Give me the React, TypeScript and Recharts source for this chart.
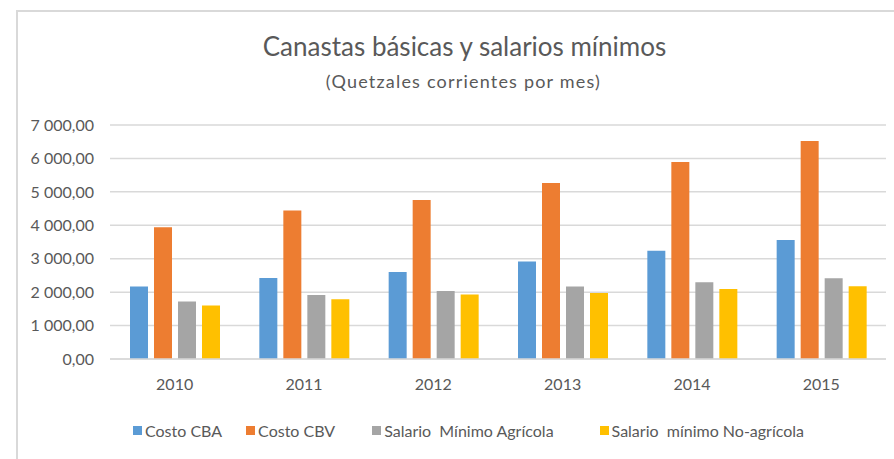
import React from 'react';
import { BarChart, Bar, XAxis, YAxis, CartesianGrid, Legend } from 'recharts';

const years = ['2010', '2011', '2012', '2013', '2014', '2015'];
const costoCBA = [2170, 2420, 2600, 2920, 3240, 3560];
const costoCBV = [3940, 4440, 4760, 5265, 5890, 6520];
const salarioAgricola = [1720, 1915, 2034, 2166, 2294, 2414];
const salarioNoAgricola = [1600, 1786, 1926, 1974, 2094, 2175];
const yTicks = [0, 1000, 2000, 3000, 4000, 5000, 6000, 7000];

const series = [
  { key: 'cba', name: 'Costo CBA', color: '#5B9BD5' },
  { key: 'cbv', name: 'Costo CBV', color: '#ED7D31' },
  { key: 'agr', name: 'Salario  Mínimo Agrícola', color: '#A5A5A5' },
  { key: 'noagr', name: 'Salario  mínimo No-agrícola', color: '#FFC000' },
];

const data = years.map((year, i) => ({
  year,
  cba: costoCBA[i],
  cbv: costoCBV[i],
  agr: salarioAgricola[i],
  noagr: salarioNoAgricola[i],
}));

const font = 'Lato, "Open Sans", sans-serif';
const textColor = '#595959';

function formatNumber(v: number) {
  const [intPart, dec] = v.toFixed(2).split('.');
  const withSpaces = intPart.replace(/\B(?=(\d{3})+(?!\d))/g, ' ');
  return `${withSpaces},${dec}`;
}

const legendGaps = [24, 37, 46, 0];

function LegendContent() {
  return (
    <div style={{ display: 'flex', fontFamily: font, fontSize: 16, color: textColor, paddingLeft: 133, height: 19 }}>
      {series.map((s, i) => (
        <div key={s.key} style={{ display: 'flex', alignItems: 'center', marginRight: legendGaps[i], whiteSpace: 'pre' }}>
          <span style={{ display: 'inline-block', width: 9, height: 9, background: s.color, marginRight: 3 }} />
          <span>{s.name}</span>
        </div>
      ))}
    </div>
  );
}

export default function App() {
  return (
    <div style={{ position: 'absolute', left: 0, top: 0, width: 894, height: 459, background: '#fff', overflow: 'hidden' }}>
      <div
        style={{
          position: 'absolute',
          left: 16,
          top: 10,
          width: 900,
          height: 460,
          borderLeft: '2px solid #D9D9D9',
          borderTop: '2px solid #D9D9D9',
        }}
      />
      <div style={{ position: 'absolute', left: 0, width: 929, top: 30, textAlign: 'center', fontFamily: font, fontSize: 26, color: textColor }}>
        Canastas básicas y salarios mínimos
      </div>
      <div style={{ position: 'absolute', left: 0, width: 927, top: 70, textAlign: 'center', fontFamily: font, fontSize: 18, letterSpacing: 1.2, color: textColor }}>
        (Quetzales corrientes por mes)
      </div>
      <div style={{ position: 'absolute', left: 0, top: 0 }}>
        <BarChart
          width={894}
          height={459}
          data={data}
          margin={{ top: 125, right: 8, left: 20, bottom: 51 }}
          barSize={18}
          barGap={6}
        >
          <CartesianGrid vertical={false} stroke="#D9D9D9" strokeWidth={1.5} />
          <XAxis
            dataKey="year"
            axisLine={{ stroke: '#D9D9D9', strokeWidth: 1.5 }}
            tickLine={false}
            tick={{ fill: textColor, fontSize: 16, fontFamily: font }}
            tickMargin={14}
            height={30}
          />
          <YAxis
            width={90}
            domain={[0, 7000]}
            ticks={yTicks}
            axisLine={false}
            tickLine={false}
            tickSize={0}
            tickMargin={16}
            tickFormatter={formatNumber}
            tick={{ fill: textColor, fontSize: 16, fontFamily: font }}
          />
          <Legend verticalAlign="bottom" wrapperStyle={{ top: 421, left: 0, width: 894 }} content={() => <LegendContent />} />
          {series.map((s) => (
            <Bar key={s.key} dataKey={s.key} name={s.name} fill={s.color} isAnimationActive={false} />
          ))}
        </BarChart>
      </div>
    </div>
  );
}
